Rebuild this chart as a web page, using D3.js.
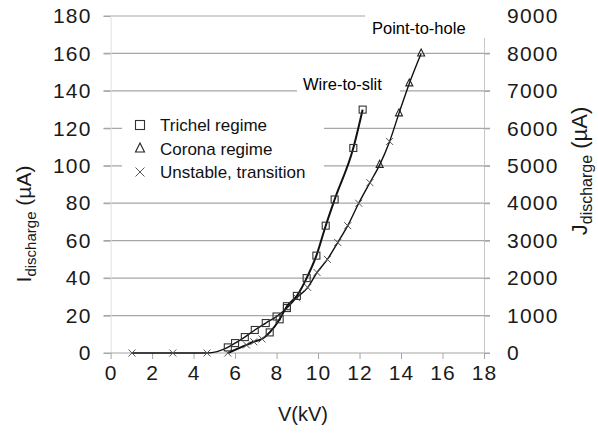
<!DOCTYPE html>
<html>
<head>
<meta charset="utf-8">
<script src="https://cdn.jsdelivr.net/npm/d3@7"></script>
<style>
	body { margin: 0; background: #fff; }
	svg { display: block; font-family: "Liberation Sans", Arial, sans-serif; }
</style>
</head>
<body>
<svg id="chart" width="598" height="433"></svg>
<script>
// axis ticks
const vTicks = [0, 2, 4, 6, 8, 10, 12, 14, 16, 18];
const iTicks = [0, 20, 40, 60, 80, 100, 120, 140, 160, 180];
const jTicks = [0, 1000, 2000, 3000, 4000, 5000, 6000, 7000, 8000, 9000];

// wire-to-slit (s = Trichel, t = corona, x = unstable)
const wireV = [5.65, 6.55, 6.9, 7.3, 7.67, 8.15, 8.5, 8.98, 9.45, 9.92, 10.37, 10.8, 11.7, 12.15];
const wireI = [0, 4.3, 6, 7.5, 11, 18, 25, 30.5, 40, 52, 68, 82, 109.5, 130];
const wireMark = ['x', 'x', 'x', 'x', 's', 's', 's', 's', 's', 's', 's', 's', 's', 's'];

// point-to-hole
const pointV = [1.03, 3.0, 4.65, 5.65, 6.0, 6.47, 6.95, 7.48, 8.0, 8.5, 8.97, 9.5, 9.95, 10.45, 10.95, 11.43, 11.96, 12.5, 12.97, 13.45, 13.9, 14.4, 14.97];
const pointI = [0, 0, 0, 3, 5.3, 8.5, 12.3, 16, 19.5, 24, 29.5, 35, 43, 50, 59, 68, 80, 91, 100.5, 113, 128, 144, 160];
const pointMark = ['x', 'x', 'x', 's', 's', 's', 's', 's', 's', 's', 'x', 'x', 'x', 'x', 'x', 'x', 'x', 'x', 't', 'x', 't', 't', 't'];

const legendLabels = ['Trichel regime', 'Corona regime', 'Unstable, transition'];
const legendMarks = ['s', 't', 'x'];

const svg = d3.select('#chart');
const plot = { left: 110.6, right: 484, top: 16, bottom: 353 };

const x = d3.scaleLinear().domain([0, 18]).range([plot.left, plot.right]);
const yI = d3.scaleLinear().domain([0, 180]).range([plot.bottom, plot.top]);
const yJ = d3.scaleLinear().domain([0, 9000]).range([plot.bottom, plot.top]);

// gridlines
svg.append('g')
	.selectAll('line')
	.data(iTicks.slice(1))
	.enter()
	.append('line')
	.attr('x1', plot.left - 7)
	.attr('x2', plot.right + 6)
	.attr('y1', d => yI(d))
	.attr('y2', d => yI(d))
	.attr('stroke', '#a6a6a6')
	.attr('stroke-width', 1.2);

// left axis
const leftAxis = svg.append('g')
	.attr('transform', 'translate(' + plot.left + ',0)')
	.call(d3.axisLeft(yI).tickValues(iTicks).tickSize(7).tickPadding(12));
leftAxis.select('.domain').attr('stroke', '#e0e0e0');
leftAxis.selectAll('.tick line').attr('stroke', '#a6a6a6');

// right axis
const rightAxis = svg.append('g')
	.attr('transform', 'translate(' + plot.right + ',0)')
	.call(d3.axisRight(yJ).tickValues(jTicks).tickFormat(d3.format('d')).tickSize(6).tickPadding(17));
rightAxis.select('.domain').attr('stroke', '#c8c8c8');
rightAxis.selectAll('.tick line').attr('stroke', '#a6a6a6');

// bottom axis
const bottomAxis = svg.append('g')
	.attr('transform', 'translate(0,' + plot.bottom + ')')
	.call(d3.axisBottom(x).tickValues(vTicks).tickSize(6).tickPadding(6));
bottomAxis.select('.domain').attr('stroke', '#a6a6a6').attr('stroke-width', 1.2)
	.attr('d', 'M' + (plot.left - 7) + ',0H' + (plot.right + 6));
bottomAxis.selectAll('.tick line').attr('stroke', '#a6a6a6');

svg.selectAll('.tick text')
	.attr('font-size', 21)
	.attr('letter-spacing', 1.2)
	.attr('font-family', '"Liberation Sans", Arial, sans-serif')
	.attr('fill', '#1a1a1a');

// label boxes over the gridlines
svg.append('rect').attr('x', 365).attr('y', 8).attr('width', 125).attr('height', 30).attr('fill', '#fff');
svg.append('rect').attr('x', 297).attr('y', 76).attr('width', 103).attr('height', 20).attr('fill', '#fff');
svg.append('rect').attr('x', 122).attr('y', 110).attr('width', 202).attr('height', 76).attr('fill', '#fff');

svg.append('text').attr('x', 372).attr('y', 34).attr('font-size', 16.5).attr('fill', '#000').text('Point-to-hole');
svg.append('text').attr('x', 303).attr('y', 90).attr('font-size', 16.5).attr('fill', '#000').text('Wire-to-slit');

// marker drawing
function drawMarker(g, type, cx, cy, size) {
	let h = size / 2;
	if (type === 's') {
		g.append('rect').attr('x', cx - h).attr('y', cy - h)
			.attr('width', size).attr('height', size)
			.attr('fill', 'none').attr('stroke', '#333').attr('stroke-width', 1.1);
	} else if (type === 't') {
		g.append('path')
			.attr('d', 'M' + cx + ',' + (cy - h - 1) + 'L' + (cx + h) + ',' + (cy + h - 1) + 'L' + (cx - h) + ',' + (cy + h - 1) + 'Z')
			.attr('fill', 'none').attr('stroke', '#222').attr('stroke-width', 1.1);
	} else {
		g.append('path')
			.attr('d', 'M' + (cx - h) + ',' + (cy - h) + 'L' + (cx + h) + ',' + (cy + h) + 'M' + (cx + h) + ',' + (cy - h) + 'L' + (cx - h) + ',' + (cy + h))
			.attr('stroke', '#555').attr('stroke-width', 1);
	}
}

// series
function drawSeries(vs, is, marks, width) {
	let pts = vs.map((v, i) => [x(v), yI(is[i])]);
	svg.append('path')
		.attr('d', d3.line().curve(d3.curveMonotoneX)(pts))
		.attr('fill', 'none')
		.attr('stroke', '#111')
		.attr('stroke-width', width);
	let g = svg.append('g');
	pts.forEach((p, i) => drawMarker(g, marks[i], p[0], p[1], 7));
}

drawSeries(pointV, pointI, pointMark, 1.4);
drawSeries(wireV, wireI, wireMark, 2);

// legend
const legend = svg.append('g');
legendLabels.forEach((lab, i) => {
	let cy = 125 + i * 23.5;
	drawMarker(legend, legendMarks[i], 140, cy, 9);
	legend.append('text').attr('x', 160).attr('y', cy + 6).attr('font-size', 17).attr('fill', '#111').text(lab);
});

// axis titles
svg.append('text')
	.attr('x', 303).attr('y', 421)
	.attr('text-anchor', 'middle').attr('font-size', 20).attr('fill', '#1a1a1a')
	.text('V(kV)');

const leftTitle = svg.append('text')
	.attr('transform', 'translate(31,224) rotate(-90)')
	.attr('text-anchor', 'middle').attr('font-size', 21).attr('fill', '#1a1a1a');
leftTitle.append('tspan').text('I');
leftTitle.append('tspan').attr('font-size', 15).attr('dy', 5).text('discharge');
leftTitle.append('tspan').attr('dy', -5).text(' (\u00b5A)');

const rightTitle = svg.append('text')
	.attr('transform', 'translate(587,171) rotate(-90)')
	.attr('text-anchor', 'middle').attr('font-size', 22).attr('fill', '#1a1a1a');
rightTitle.append('tspan').text('J');
rightTitle.append('tspan').attr('font-size', 16).attr('dy', 5).text('discharge');
rightTitle.append('tspan').attr('dy', -5).text(' (\u00b5A)');
</script>
</body>
</html>
